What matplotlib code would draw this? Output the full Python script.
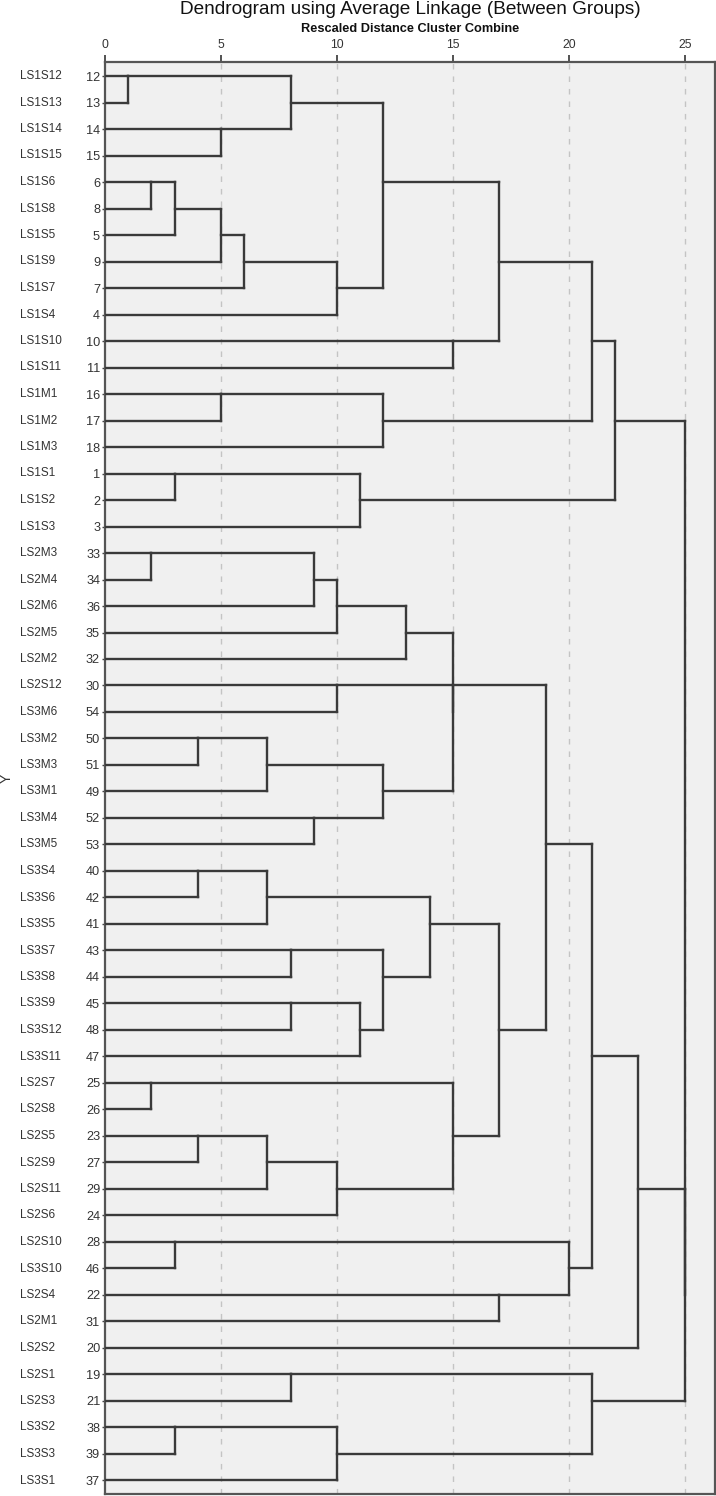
import matplotlib
matplotlib.use("Agg")
import matplotlib.pyplot as plt

plt.rcParams['font.family'] = ['Liberation Sans', 'DejaVu Sans']

# ---------------- data ----------------
leaf_names = ["LS1S12", "LS1S13", "LS1S14", "LS1S15", "LS1S6", "LS1S8", "LS1S5", "LS1S9",
              "LS1S7", "LS1S4", "LS1S10", "LS1S11", "LS1M1", "LS1M2", "LS1M3", "LS1S1",
              "LS1S2", "LS1S3", "LS2M3", "LS2M4", "LS2M6", "LS2M5", "LS2M2", "LS2S12",
              "LS3M6", "LS3M2", "LS3M3", "LS3M1", "LS3M4", "LS3M5", "LS3S4", "LS3S6",
              "LS3S5", "LS3S7", "LS3S8", "LS3S9", "LS3S12", "LS3S11", "LS2S7", "LS2S8",
              "LS2S5", "LS2S9", "LS2S11", "LS2S6", "LS2S10", "LS3S10", "LS2S4", "LS2M1",
              "LS2S2", "LS2S1", "LS2S3", "LS3S2", "LS3S3", "LS3S1"]
case_numbers = [12, 13, 14, 15, 6, 8, 5, 9, 7, 4, 10, 11, 16, 17, 18, 1, 2, 3, 33, 34, 36,
                35, 32, 30, 54, 50, 51, 49, 52, 53, 40, 42, 41, 43, 44, 45, 48, 47, 25, 26,
                23, 27, 29, 24, 28, 46, 22, 31, 20, 19, 21, 38, 39, 37]

# merges: (child_a, child_b) -> new node id = 54 + index; leaves are 0..53
merge_a = [0, 2, 54, 4, 57, 58, 59, 60, 56, 10, 62, 12, 65, 64, 15, 68, 67,
           18, 71, 72, 73, 23, 25, 76, 28, 77, 74, 75, 30, 82, 33, 35, 85, 84, 83,
           38, 40, 90, 91, 89, 88, 81, 44, 46, 96, 95, 99, 49, 51, 102, 101, 100, 70]
merge_b = [1, 3, 55, 5, 6, 7, 8, 9, 61, 11, 63, 13, 14, 66, 16, 17, 69,
           19, 20, 21, 22, 24, 26, 27, 29, 78, 79, 80, 31, 32, 34, 36, 37, 86, 87,
           39, 41, 42, 43, 92, 93, 94, 45, 47, 97, 98, 48, 50, 52, 53, 103, 104, 105]
merge_height = [1, 5, 8, 2, 3, 5, 6, 10, 12, 15, 17, 5, 12, 21, 3, 11, 22,
                2, 9, 10, 13, 10, 4, 7, 9, 12, 15, 15, 4, 7, 8, 8, 11, 12, 14,
                2, 4, 7, 10, 15, 17, 19, 3, 17, 20, 21, 23, 8, 3, 10, 21, 25, 25]

x_ticks = [0, 5, 10, 15, 20, 25]

# ---------------- figure ----------------
W, H = 716, 1496
fig = plt.figure(figsize=(W / 100, H / 100), dpi=100)
x0, x1 = 105, 715
y0, y1 = 61.7, 1494
ax = fig.add_axes([x0 / W, 1 - y1 / H, (x1 - x0) / W, (y1 - y0) / H])
ax.set_facecolor('#f0f0f0')

n = len(leaf_names)
row = {i: float(i) for i in range(n)}
xpos = {i: 0.0 for i in range(n)}
line_kw = dict(color='#3a3a3a', lw=1.7, solid_capstyle='projecting', zorder=3)
for k, (a, b, h) in enumerate(zip(merge_a, merge_b, merge_height)):
    node = n + k
    ya, yb = row[a], row[b]
    ax.plot([xpos[a], h], [ya, ya], **line_kw)
    ax.plot([xpos[b], h], [yb, yb], **line_kw)
    ax.plot([h, h], [ya, yb], **line_kw)
    row[node] = float(int((ya + yb) // 2))
    xpos[node] = h

ax.set_xlim(0, (x1 - x0) / 23.19)
ax.set_ylim(53.51, -0.54)

# grid
for t in x_ticks[1:]:
    ax.axvline(t, color='#c4c4c4', lw=1.0, dashes=(4, 5), zorder=1)

ax.xaxis.tick_top()
ax.set_xticks(x_ticks)
ax.set_xticklabels([str(t) for t in x_ticks], fontsize=8.8, color='#333333')
ax.tick_params(axis='x', direction='out', length=5, width=1.3, color='#444444', pad=3)

ax.set_yticks(range(n))
ax.set_yticklabels([str(c) for c in case_numbers], fontsize=9.2, color='#333333')
ax.tick_params(axis='y', direction='out', length=2.5, width=1.0, color='#444444', pad=1)

for i, name in enumerate(leaf_names):
    ax.text(20 / W, 1 - (76 + 26.5 * i) / H, name, transform=fig.transFigure,
            fontsize=8.5, color='#333333', ha='left', va='center')

for s in ax.spines.values():
    s.set_color('#555555')
    s.set_linewidth(1.6)

fig.text(410 / W, 1 - 10 / H, "Dendrogram using Average Linkage (Between Groups)",
         fontsize=13.7, color='#111111', ha='center', va='center')
fig.text(410 / W, 1 - 29 / H, "Rescaled Distance Cluster Combine",
         fontsize=9.2, fontweight='bold', color='#111111', ha='center', va='center')
fig.text(7 / W, 1 - 778 / H, "Y", fontsize=10, color='#333333', rotation=90,
         ha='center', va='center')

fig.savefig("out.png", dpi=100)
